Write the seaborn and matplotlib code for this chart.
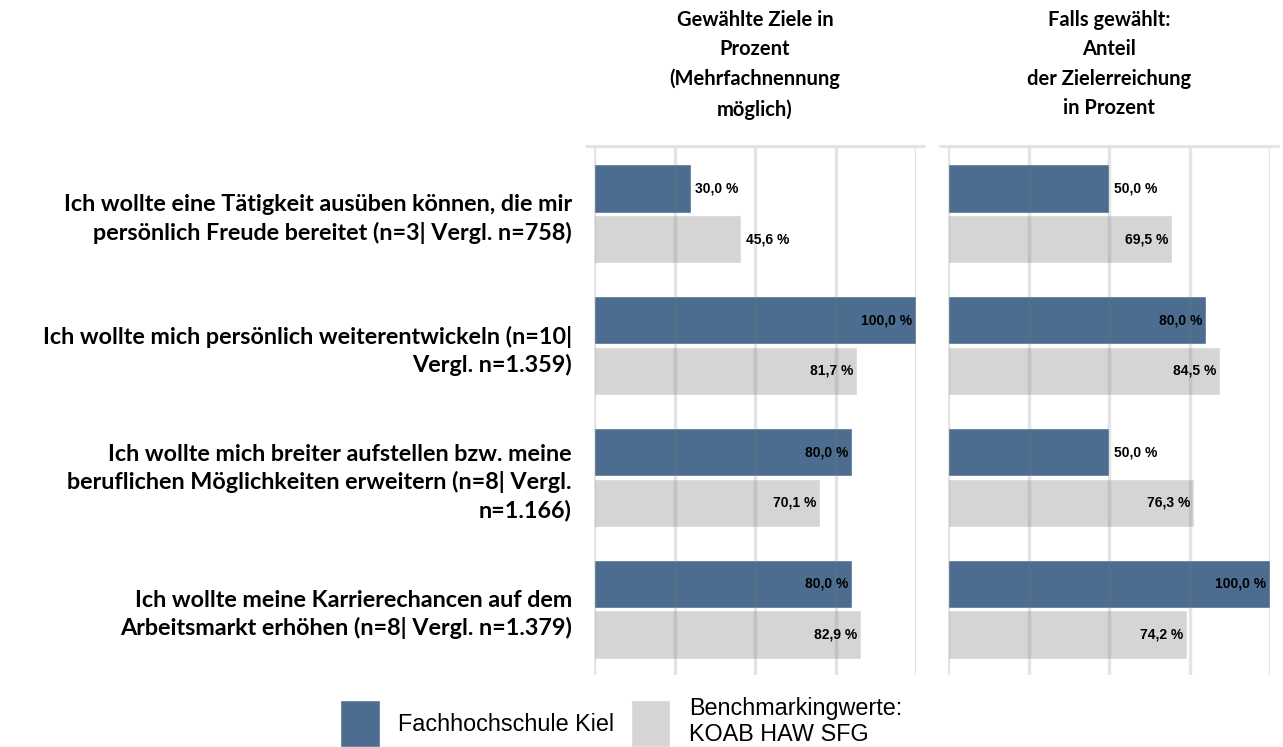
import numpy as np
import pandas as pd
import matplotlib.pyplot as plt
import seaborn as sns
from matplotlib.patches import Patch

# data
ziele = [
    "Ich wollte eine Tätigkeit ausüben können, die mir\npersönlich Freude bereitet (n=3| Vergl. n=758)",
    "Ich wollte mich persönlich weiterentwickeln (n=10|\nVergl. n=1.359)",
    "Ich wollte mich breiter aufstellen bzw. meine\nberuflichen Möglichkeiten erweitern (n=8| Vergl.\nn=1.166)",
    "Ich wollte meine Karrierechancen auf dem\nArbeitsmarkt erhöhen (n=8| Vergl. n=1.379)",
]
gruppen = ["Fachhochschule Kiel", "Benchmarkingwerte:\nKOAB HAW SFG"]

gewaehlt_fh = [30.0, 100.0, 80.0, 80.0]
gewaehlt_bm = [45.6, 81.7, 70.1, 82.9]
erreicht_fh = [50.0, 80.0, 50.0, 100.0]
erreicht_bm = [69.5, 84.5, 76.3, 74.2]

titel = ["Gewählte Ziele in\nProzent\n(Mehrfachnennung\nmöglich)",
         "Falls gewählt:\nAnteil\nder Zielerreichung\nin Prozent"]

farben = ["#4C6D90", "#D5D5D5"]


def long_df(fh, bm):
    return pd.DataFrame({
        "Ziel": ziele * 2,
        "Gruppe": [gruppen[0]] * 4 + [gruppen[1]] * 4,
        "Wert": fh + bm,
    })


sns.set_style("white")
plt.rcParams["font.family"] = ["Lato", "DejaVu Sans"]
plt.rcParams["text.color"] = "black"
plt.rcParams["ytick.color"] = "black"
wert_font = ["Liberation Sans", "DejaVu Sans"]

fig = plt.figure(figsize=(12.83, 7.47), dpi=100)
W, H = 1283, 747
ax1 = fig.add_axes([594 / W, 1 - 675 / H, 322 / W, 527 / H])
ax2 = fig.add_axes([948 / W, 1 - 675 / H, 322 / W, 527 / H])

for ax, (fh, bm), t in zip([ax1, ax2],
                           [(gewaehlt_fh, gewaehlt_bm), (erreicht_fh, erreicht_bm)],
                           titel):
    df = long_df(fh, bm)
    sns.barplot(data=df, y="Ziel", x="Wert", hue="Gruppe", orient="h",
                palette=farben, width=0.77, gap=0.05, legend=False,
                saturation=1, ax=ax, zorder=1)
    ax.set_xlim(0, 100)
    ax.set_ylim(3.5, -0.5)
    ax.set_xticks([0, 25, 50, 75, 100])
    ax.xaxis.grid(True, color="#7A7A7A", alpha=0.2, linewidth=2.4, zorder=2)
    ax.set_axisbelow(False)
    ax.set_xticklabels([])
    ax.set_xlabel("")
    ax.set_ylabel("")
    ax.tick_params(length=0)
    for s in ax.spines.values():
        s.set_visible(False)
    # header line
    ax.plot([-0.025, 1.025], [1.004, 1.004], transform=ax.transAxes,
            color="#E4E4E4", linewidth=2.2, clip_on=False)
    ax.text(0.5, 1 + (148 - 10) / 527, t, transform=ax.transAxes,
            ha="center", va="top", fontsize=14.5, fontweight="bold",
            linespacing=1.58)

    for cont in ax.containers:
        for bar in cont:
            v = bar.get_width()
            y = bar.get_y() + bar.get_height() / 2
            txt = f"{v:.1f} %".replace(".", ",")
            if v >= 60:
                ax.annotate(txt, (v, y), xytext=(-2.5, 0), textcoords="offset points",
                            ha="right", va="center", fontsize=10, fontweight="bold",
                            family=wert_font, zorder=3)
            else:
                ax.annotate(txt, (v, y), xytext=(3.5, 0), textcoords="offset points",
                            ha="left", va="center", fontsize=10, fontweight="bold",
                            family=wert_font, zorder=3)

ax1.set_yticks(range(len(ziele)))
ax1.set_yticklabels(ziele, fontsize=16.8, fontweight="bold", linespacing=1.36)
ax1.tick_params(axis="y", pad=16)
ax2.set_yticks([])

handles = [Patch(facecolor=c) for c in farben]
fig.legend(handles, gruppen, ncol=2, loc="lower center", bbox_to_anchor=(0.484, -0.016),
           frameon=False, handlelength=1.7, handleheight=2.75,
           borderpad=0, handletextpad=0.8, columnspacing=0.7,
           prop={"family": ["Liberation Sans", "DejaVu Sans"], "size": 16.8})

fig.savefig("out.png", dpi=100)
